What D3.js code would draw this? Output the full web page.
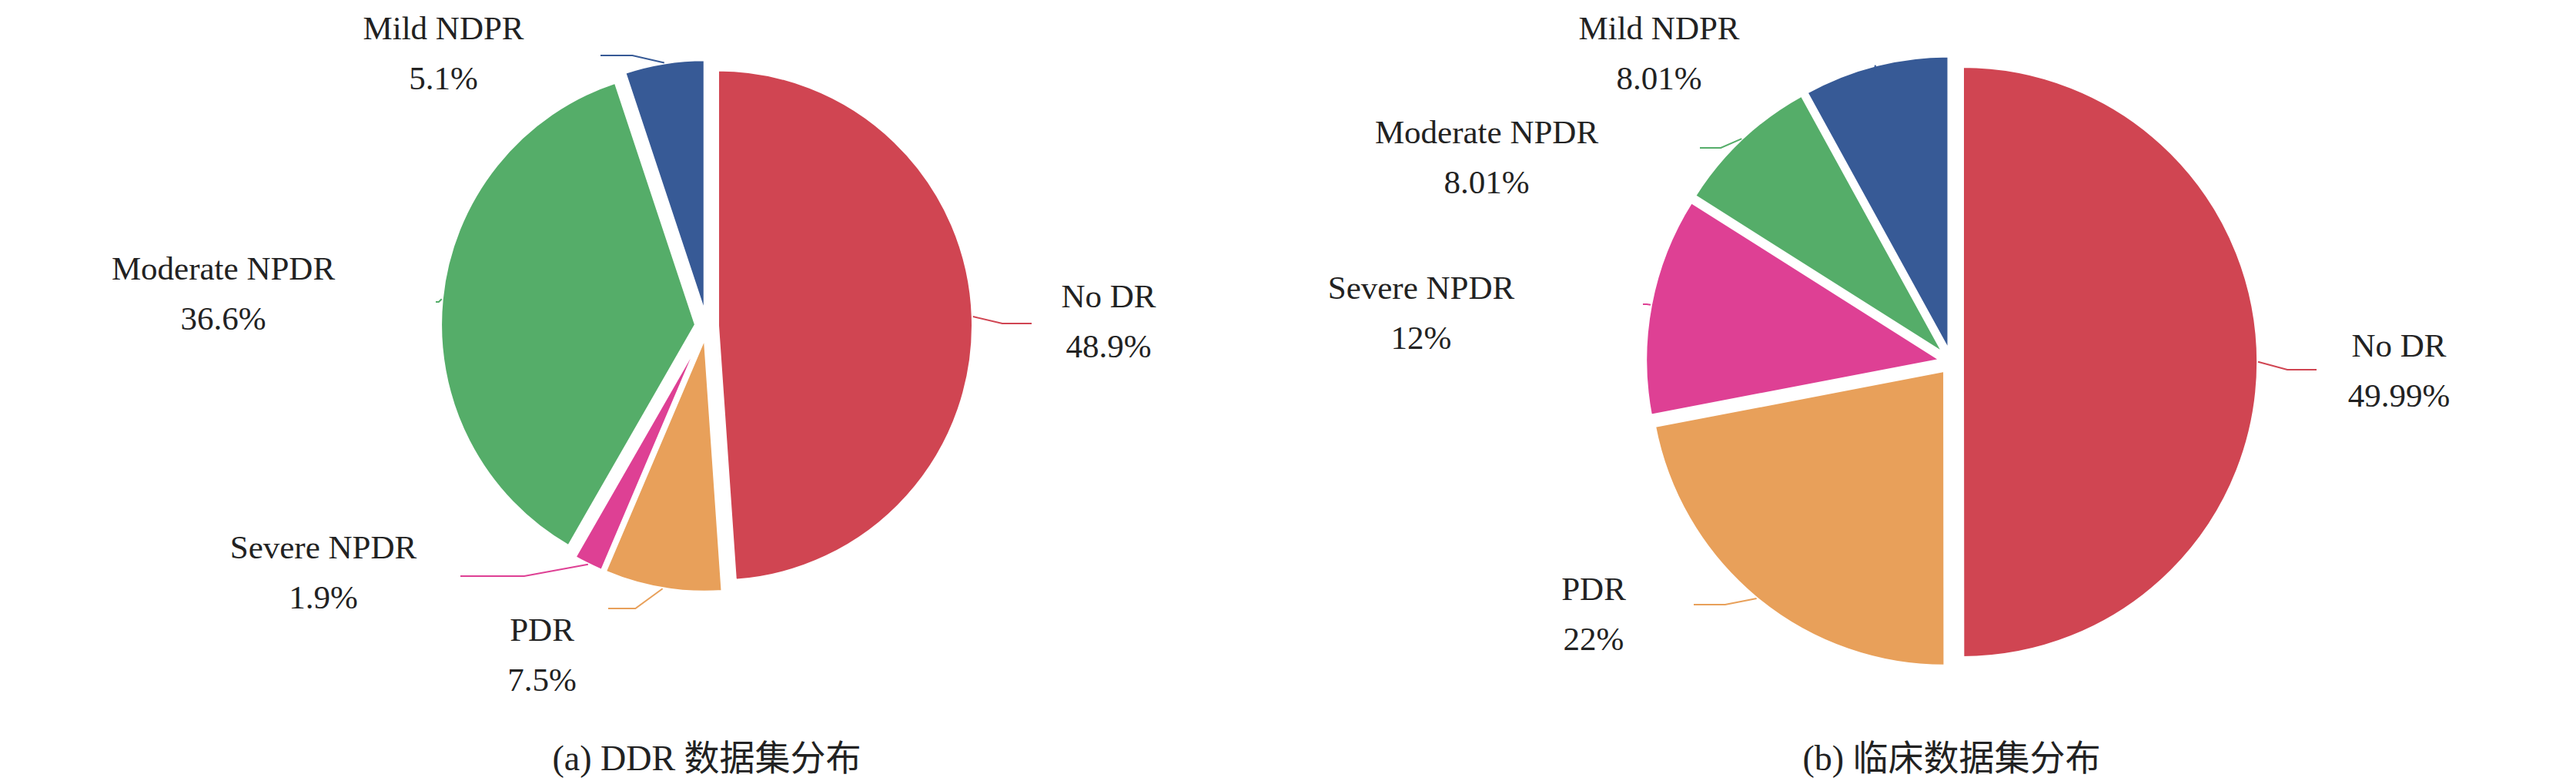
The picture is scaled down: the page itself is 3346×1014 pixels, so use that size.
<html>
<head>
<meta charset="UTF-8"/>
<script src="https://d3js.org/d3.v7.min.js"></script>
</head>
<body style="margin:0;background:#fff">
<script>
// data
const categories = ["No DR", "PDR", "Severe NPDR", "Moderate NPDR", "Mild NDPR"];
const ddrValues = [48.9, 7.5, 1.9, 36.6, 5.1];
const ddrLabels = ["48.9%", "7.5%", "1.9%", "36.6%", "5.1%"];
const clinicValues = [49.99, 22, 12, 8.01, 8.01];
const clinicLabels = ["49.99%", "22%", "12%", "8.01%", "8.01%"];
const captions = ["(a) DDR 数据集分布", "(b) 临床数据集分布"];

const colors = ["#d04552", "#e8a05a", "#de4094", "#55ad69", "#375a96"];

const width = 3346, height = 1014;
const fontSize = 43;

// layout of each pie: centre, radius, label anchor (text centre) and leader line end
const pies = [
  {values: ddrValues, labels: ddrLabels, cx: 918, cy: 423, r: 332, caption: captions[0], capX: 918,
   text: [[1440, 384], [704, 817], [420, 710], [290, 348], [576, 36]],
   lineEnd: [[1340, 420], [790, 790], [598, 748], [566, 392], [780, 72]]},
  {values: clinicValues, labels: clinicLabels, cx: 2535, cy: 470, r: 384, caption: captions[1], capX: 2535,
   text: [[3116, 448], [2070, 764], [1846, 373], [1931, 171], [2155, 36]],
   lineEnd: [[3009, 480], [2200, 785], [2134, 395], [2208, 192], [2433, 96]]}
];

const svg = d3.select("body").append("svg")
  .attr("width", width).attr("height", height);

const pie = d3.pie().sort(null).value(d => d);
const explode = 14;

pies.forEach(p => {
  const g = svg.append("g").attr("transform", "translate(" + p.cx + "," + p.cy + ")");
  const arc = d3.arc().innerRadius(0).outerRadius(p.r);
  const arcs = pie(p.values);

  g.selectAll("path").data(arcs).enter().append("path")
    .attr("d", arc)
    .attr("fill", (d, i) => colors[i])
    .attr("stroke", "#fff").attr("stroke-width", 4)
    .attr("transform", d => {
      const a = (d.startAngle + d.endAngle) / 2;
      return "translate(" + explode * Math.sin(a) + "," + (-explode * Math.cos(a)) + ")";
    });

  arcs.forEach((d, i) => {
    const a = (d.startAngle + d.endAngle) / 2;
    const sx = (p.r + explode) * Math.sin(a), sy = -(p.r + explode) * Math.cos(a);
    const e = [p.lineEnd[i][0] - p.cx, p.lineEnd[i][1] - p.cy];
    g.append("polyline")
      .attr("points", [[sx, sy], [ (sx + e[0]) / 2, e[1]], e].join(" "))
      .attr("fill", "none").attr("stroke", colors[i]).attr("stroke-width", 2);

    const t = g.append("text")
      .attr("x", p.text[i][0] - p.cx).attr("y", p.text[i][1] - p.cy)
      .attr("text-anchor", "middle")
      .attr("font-family", "Liberation Serif").attr("font-size", fontSize)
      .attr("fill", "#222");
    t.append("tspan").attr("x", p.text[i][0] - p.cx).attr("dy", "0.35em").text(categories[i]);
    t.append("tspan").attr("x", p.text[i][0] - p.cx).attr("dy", "1.5em").text(p.labels[i]);
  });

  svg.append("text").attr("x", p.capX).attr("y", 1000)
    .attr("text-anchor", "middle")
    .attr("font-family", "Liberation Serif, Noto Sans CJK SC").attr("font-size", 46)
    .attr("fill", "#222").text(p.caption);
});
</script>
</body>
</html>
